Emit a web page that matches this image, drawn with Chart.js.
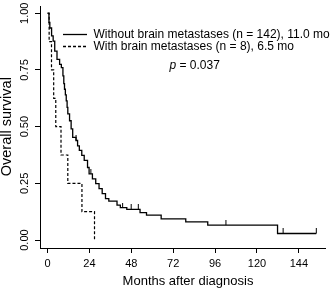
<!DOCTYPE html>
<html>
<head>
<meta charset="utf-8">
<script src="https://cdn.jsdelivr.net/npm/chart.js@4/dist/chart.umd.min.js"></script>
<style>
  html, body { margin: 0; padding: 0; background: #fff; }
  #wrap { width: 331px; height: 289px; position: relative; }
</style>
</head>
<body>
<div id="wrap"><canvas id="km"></canvas></div>
<script>
// Kaplan-Meier steps (months, survival)
const monthsWithout = [0, 0.8, 1.3, 2.3, 3.2, 4.1, 5.4, 6.9, 7.9, 8.8, 9.3, 9.7, 10.2, 10.7, 11.2, 11.6,
  12.6, 13.5, 14.4, 16.3, 17.2, 18.2, 19.6, 21.0, 22.9, 23.8, 25.7, 27.6, 29.5, 31.3, 33.2, 35.1,
  39.8, 41.7, 45.4, 53.0, 56.7, 65.1, 79.2, 91.8, 131.8, 154.0];
const survWithout = [1.0, 0.96, 0.935, 0.90, 0.877, 0.833, 0.797, 0.775, 0.76, 0.724, 0.69, 0.665, 0.64, 0.614, 0.585, 0.556,
  0.526, 0.49, 0.453, 0.439, 0.415, 0.395, 0.373, 0.351, 0.32, 0.292, 0.27, 0.249, 0.227, 0.205, 0.183, 0.172,
  0.154, 0.143, 0.135, 0.121, 0.11, 0.093, 0.08, 0.066, 0.029, 0.029];

const monthsWith = [0, 0.9, 2.25, 3.5, 4.7, 7.7, 11.6, 19.7, 26.9];
const survWith   = [1.0, 0.875, 0.75, 0.625, 0.5, 0.375, 0.25, 0.125, 0.0];

// censoring marks on the "without" curve
const censorMonths = [16.3, 24.8, 43.0, 47.9, 52.0, 102.2, 135.0, 154.0];
const censorSurv   = [0.439, 0.292, 0.143, 0.135, 0.135, 0.066, 0.029, 0.029];

const xTicks = [0, 24, 48, 72, 96, 120, 144];
const yTicks = [0, 0.25, 0.5, 0.75, 1];

const legendLabels = ['Without brain metastases (n = 142), 11.0 mo', 'With brain metastases (n = 8), 6.5 mo'];
const pLabel = ' = 0.037';
const xTitle = 'Months after diagnosis';
const yTitle = 'Overall survival';

const FONT = '"Liberation Sans", Arial, sans-serif';

// small tick drawn above the point (censor mark)
function censorGlyph() {
  const c = document.createElement('canvas');
  c.width = 3; c.height = 10;
  const g = c.getContext('2d');
  g.fillStyle = '#000';
  g.fillRect(1, 0, 1, 5);
  return c;
}

const overlay = {
  id: 'overlay',
  afterDraw(chart) {
    const ctx = chart.ctx;
    const ys = chart.scales.y;
    ctx.save();
    ctx.fillStyle = '#000';
    ctx.strokeStyle = '#000';

    // rotated y tick labels
    ctx.font = '11px ' + FONT;
    ctx.textAlign = 'center';
    ctx.textBaseline = 'middle';
    yTicks.forEach(v => {
      ctx.save();
      ctx.translate(25, ys.getPixelForValue(v));
      ctx.rotate(-Math.PI / 2);
      ctx.fillText(v.toFixed(2), 0, 0);
      ctx.restore();
    });

    // axis titles
    ctx.font = '14.5px ' + FONT;
    ctx.save();
    ctx.translate(7, 126.7);
    ctx.rotate(-Math.PI / 2);
    ctx.fillText(yTitle, 0, 0);
    ctx.restore();
    ctx.font = '13px ' + FONT;
    ctx.fillText(xTitle, 188, 281);

    // legend
    ctx.font = '12px ' + FONT;
    ctx.textAlign = 'left';
    const rows = [34.5, 46.5];
    rows.forEach((y, i) => {
      ctx.lineWidth = 1.3;
      ctx.setLineDash(i === 0 ? [] : [3, 2]);
      ctx.beginPath();
      ctx.moveTo(63, y);
      ctx.lineTo(87, y);
      ctx.stroke();
      ctx.fillText(legendLabels[i], 93.5, y);
    });
    ctx.setLineDash([]);

    // p value
    ctx.font = 'italic 12px ' + FONT;
    ctx.fillText('p', 169.5, 66);
    const pw = ctx.measureText('p').width;
    ctx.font = '12px ' + FONT;
    ctx.fillText(pLabel, 169.5 + pw, 66);
    ctx.restore();
  }
};

const pts = (xs, ys) => xs.map((x, i) => ({ x, y: ys[i] }));

new Chart(document.getElementById('km'), {
  type: 'line',
  data: {
    datasets: [
      {
        label: legendLabels[0],
        data: pts(monthsWithout, survWithout),
        borderColor: '#000',
        borderWidth: 1.3,
        stepped: true,
        pointRadius: 0,
        fill: false,
      },
      {
        label: legendLabels[1],
        data: pts(monthsWith, survWith),
        borderColor: '#000',
        borderWidth: 1.2,
        borderDash: [3, 2],
        stepped: true,
        pointRadius: 0,
        fill: false,
      },
      {
        type: 'scatter',
        label: 'censored',
        data: pts(censorMonths, censorSurv),
        pointStyle: censorGlyph(),
        pointRadius: 5,
        showLine: false,
      }
    ]
  },
  options: {
    responsive: true,
    maintainAspectRatio: false,
    animation: false,
    layout: { padding: { top: 5, right: 1, left: 0, bottom: 0 } },
    plugins: { legend: { display: false }, tooltip: { enabled: false } },
    scales: {
      x: {
        type: 'linear',
        min: -4.34,
        max: 159,
        afterBuildTicks: s => { s.ticks = xTicks.map(v => ({ value: v })); },
        afterFit: s => { s.height = 41; },
        border: { display: true, color: '#000', width: 1 },
        grid: { display: true, drawOnChartArea: false, color: '#000', tickLength: 5 },
        ticks: { color: '#000', font: { family: FONT, size: 11 }, padding: 4, maxRotation: 0 }
      },
      y: {
        type: 'linear',
        min: -0.035,
        max: 1.032,
        afterBuildTicks: s => { s.ticks = yTicks.map(v => ({ value: v })); },
        afterFit: s => { s.width = 40; },
        border: { display: true, color: '#000', width: 1 },
        grid: { display: true, drawOnChartArea: false, color: '#000', tickLength: 5 },
        ticks: { display: false }
      }
    }
  },
  plugins: [overlay]
});
</script>
</body>
</html>
